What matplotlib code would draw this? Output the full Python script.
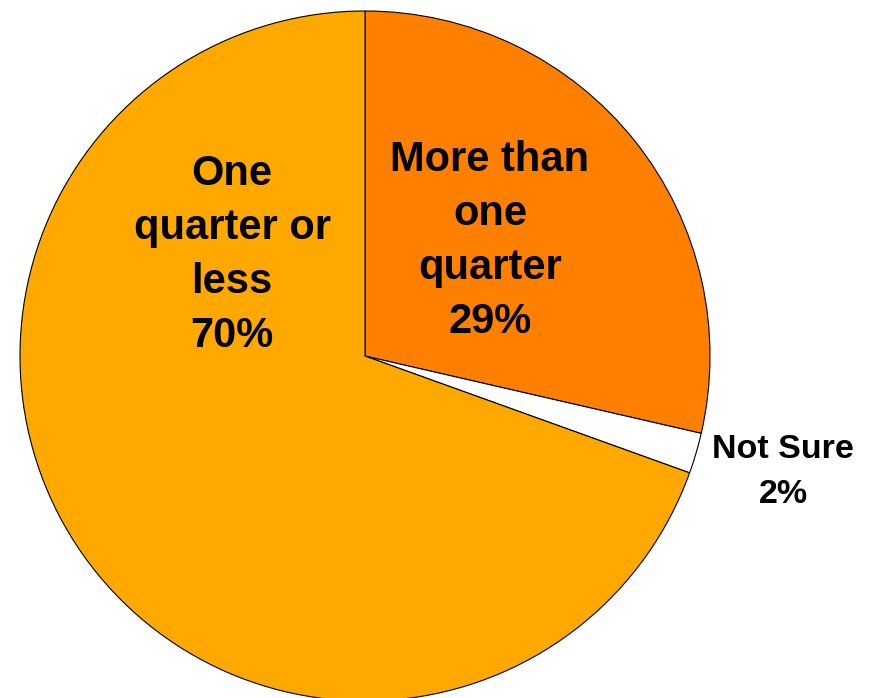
import matplotlib.pyplot as plt

plt.rcParams['font.family'] = ['Liberation Sans', 'DejaVu Sans']

# slice shares (clockwise from 12 o'clock)
labels = ['More than\none\nquarter\n29%', 'Not Sure\n2%', 'One\nquarter or\nless\n70%']
values = [28.6, 1.9, 69.5]
colors = ['#FF8000', '#FFFFFF', '#FFA800']

W, H = 871, 698
fig = plt.figure(figsize=(W / 100, H / 100), dpi=100)
ax = fig.add_axes([0, 0, 1, 1])

cx, cy, r = 365, H - 356, 345
wedges, _ = ax.pie(values, colors=colors, startangle=90, counterclock=False,
                   center=(cx, cy), radius=r, frame=True,
                   wedgeprops=dict(edgecolor='black', linewidth=0.8))
ax.set_xlim(0, W)
ax.set_ylim(0, H)
ax.set_aspect('equal')
ax.axis('off')

# labels inside the two big slices, one beside the thin one
ax.text(490, H - 241, labels[0], ha='center', va='center', fontsize=30,
        fontweight='bold', linespacing=1.46)
ax.text(232, H - 255, labels[2], ha='center', va='center', fontsize=30,
        fontweight='bold', linespacing=1.46)
ax.text(783, H - 472, labels[1], ha='center', va='center', fontsize=24.5,
        fontweight='bold', linespacing=1.56)

fig.savefig('out.png', dpi=100)
